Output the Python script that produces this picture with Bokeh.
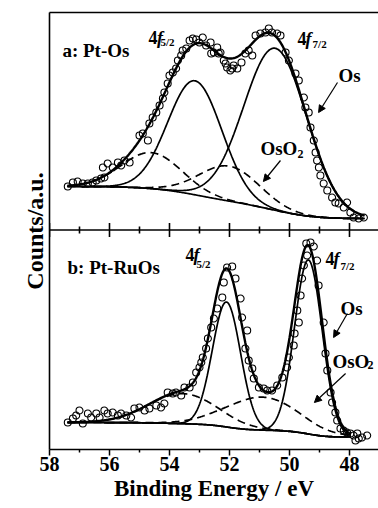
import numpy as np
from bokeh.plotting import figure
from bokeh.models import (Range1d, LinearAxis, FixedTicker, Span, Label,
                          Arrow, NormalHead)
from bokeh.embed import file_html
from bokeh.resources import INLINE

# ---------------- data ----------------
major_ticks = [58, 56, 54, 52, 50, 48]
minor_ticks = [57, 55, 53, 51, 49]
tick_labels = {58: "58", 56: "56", 54: "54", 52: "52", 50: "50", 48: "48"}

# Panel a: Pt-Os  (binding energy / eV, counts a.u.)
ev_a = [57.39, 57.22, 57.06, 56.89, 56.72, 56.56, 56.44, 56.28, 56.22, 56.17,
        56.06, 55.89, 55.72, 55.61, 55.50, 55.33, 55.00, 54.89, 54.72, 54.67,
        54.56, 54.44, 54.33, 54.22, 54.17, 54.06, 54.00, 53.89, 53.78, 53.72,
        53.61, 53.56, 53.44, 53.33, 53.22, 53.11, 53.00, 52.89, 52.78, 52.63,
        52.61, 52.52, 52.41, 52.36, 52.30, 52.19, 52.13, 52.08, 51.97, 51.91,
        51.86, 51.74, 51.60, 51.47, 51.36, 51.24, 51.13, 50.97, 50.80, 50.69,
        50.58, 50.41, 50.30, 50.13, 50.02, 49.80, 49.69, 49.52, 49.47, 49.36,
        49.30, 49.19, 49.13, 49.08, 49.02, 48.97, 48.86, 48.74, 48.58, 48.47,
        48.36, 48.19, 48.08, 47.97, 47.86, 47.69, 47.52]
cnt_a = [42, 46, 47, 45, 45, 46, 48, 50, 61, 51,
         65, 61, 66, 63, 68, 66, 93, 95, 88, 105,
         111, 116, 123, 130, 136, 145, 153, 156, 160, 168,
         173, 178, 180, 188, 190, 189, 186, 191, 183, 186,
         175, 176, 181, 175, 176, 168, 165, 161, 158, 160,
         163, 160, 166, 175, 178, 173, 193, 195, 196, 200,
         196, 195, 193, 176, 168, 155, 148, 131, 121, 116,
         101, 88, 76, 68, 61, 53, 45, 38, 31, 26,
         25, 21, 26, 16, 11, 10, 11]

# Panel b: Pt-RuOs
ev_b = [57.39, 57.22, 57.11, 57.00, 56.89, 56.72, 56.61, 56.44, 56.33, 56.17,
        56.06, 55.89, 55.72, 55.61, 55.44, 55.28, 55.17, 55.00, 54.83, 54.67,
        54.44, 54.28, 54.17, 54.06, 53.89, 53.78, 53.61, 53.50, 53.33, 53.22,
        53.11, 53.00, 52.94, 52.89, 52.78, 52.72, 52.61, 52.52, 52.41, 52.24,
        52.19, 52.08, 51.91, 51.80, 51.63, 51.58, 51.47, 51.41, 51.36, 51.24,
        51.19, 51.02, 50.86, 50.74, 50.58, 50.41, 50.24, 50.08, 50.02, 49.86,
        49.83, 49.74, 49.69, 49.63, 49.58, 49.52, 49.44, 49.41, 49.30, 49.19,
        49.08, 49.03, 48.86, 48.80, 48.74, 48.63, 48.58, 48.47, 48.41, 48.30,
        48.19, 48.08, 47.97, 47.86, 47.80, 47.74, 47.69, 47.58, 47.41]
cnt_b = [27, 31, 34, 39, 26, 36, 32, 36, 32, 39,
         36, 37, 34, 36, 34, 32, 41, 42, 39, 41,
         44, 42, 46, 57, 56, 57, 54, 62, 62, 67,
         77, 82, 87, 92, 101, 111, 122, 131, 141, 152,
         167, 182, 183, 171, 151, 132, 101, 119, 89, 81,
         71, 62, 61, 59, 59, 64, 72, 82, 92, 104,
         116, 139, 127, 154, 171, 184, 206, 194, 207, 203,
         189, 164, 127, 96, 79, 57, 47, 37, 29, 21,
         19, 17, 16, 14, 9, 16, 11, 12, 14]

# Fitted peaks: Os 4f7/2, Os 4f5/2, OsO2 4f7/2, OsO2 4f5/2
center_a = [50.47, 53.15, 52.00, 54.60]
height_a = [162, 114, 35, 36]
sigma_a = [1.05, 0.90, 1.00, 1.00]
bg_ends_a = [42, 10]          # background at high / low binding energy
fit_span_a = [57.40, 47.50]

center_b = [49.37, 52.10, 50.90, 53.55]
height_b = [174, 125, 33, 30]
sigma_b = [0.46, 0.47, 1.20, 1.15]
bg_ends_b = [27, 12.5]
fit_span_b = [57.40, 47.95]

SERIF = "Liberation Serif"


def fit_curves(span, centers, heights, sigmas, bg_ends):
    e = np.linspace(span[0], span[1], 500)
    comps = [h * np.exp(-0.5 * ((e - c) / s) ** 2)
             for c, h, s in zip(centers, heights, sigmas)]
    total = np.sum(comps, axis=0)
    cum = np.cumsum(total[::-1])[::-1]
    bg = bg_ends[1] + (bg_ends[0] - bg_ends[1]) * cum / cum[0]
    return e, bg, [bg + c for c in comps], bg + total


p = figure(width=378, height=508, output_backend="svg", toolbar_location=None,
           x_range=Range1d(58, 47.033), y_range=Range1d(0, 437),
           min_border_left=49, min_border_right=0, min_border_top=12,
           min_border_bottom=59)
p.extra_y_ranges = {"a": Range1d(-221, 216)}
p.outline_line_color = None
p.background_fill_color = "white"
p.border_fill_color = "white"
p.grid.visible = False

xa = p.xaxis[0]
xa.ticker = FixedTicker(ticks=major_ticks, minor_ticks=minor_ticks)
xa.major_label_overrides = tick_labels
xa.major_label_text_font = SERIF
xa.major_label_text_font_style = "bold"
xa.major_label_text_font_size = "20px"
xa.major_label_text_color = "black"
xa.major_label_standoff = 1
xa.major_tick_in = 0
xa.major_tick_out = 6
xa.minor_tick_in = 0
xa.minor_tick_out = 3
xa.major_tick_line_width = 1.5
xa.minor_tick_line_width = 1.5
xa.axis_line_width = 1.6
xa.axis_label = "Binding Energy / eV"
xa.axis_label_text_font = SERIF
xa.axis_label_text_font_style = "bold"
xa.axis_label_text_font_size = "23px"
xa.axis_label_text_color = "black"
xa.axis_label_standoff = 2

ya = p.yaxis[0]
ya.ticker = FixedTicker(ticks=[])
ya.axis_line_width = 1.6
ya.axis_label = "Counts/a.u."
ya.axis_label_text_font = SERIF
ya.axis_label_text_font_style = "bold"
ya.axis_label_text_font_size = "24px"
ya.axis_label_standoff = 2
ya.axis_label_text_color = "black"

top = LinearAxis(ticker=FixedTicker(ticks=[]), axis_line_width=1.6,
                 major_label_text_font_size="0px")
p.add_layout(top, "above")

# divider between the two panels with crossing ticks
divider = 219.5
p.add_layout(Span(location=divider, dimension="width", line_color="black",
                  line_width=1.6))
p.segment(x0=major_ticks, x1=major_ticks, y0=divider - 7, y1=divider + 7,
          line_color="black", line_width=1.6)
p.segment(x0=minor_ticks, x1=minor_ticks, y0=divider - 3.5, y1=divider + 3.5,
          line_color="black", line_width=1.6)

for ev, cnt, cen, hei, sig, bge, span, rng in [
        (ev_a, cnt_a, center_a, height_a, sigma_a, bg_ends_a, fit_span_a, "a"),
        (ev_b, cnt_b, center_b, height_b, sigma_b, bg_ends_b, fit_span_b, "default")]:
    e, bg, comps, env = fit_curves(span, cen, hei, sig, bge)
    p.scatter(ev, cnt, marker="circle", size=7, line_color="black",
              line_width=1.1, fill_color=None, y_range_name=rng)
    p.line(e, bg, line_color="black", line_width=1.7, y_range_name=rng)
    for c in comps[:2]:
        p.line(e, c, line_color="black", line_width=1.7, y_range_name=rng)
    for c in comps[2:]:
        p.line(e, c, line_color="black", line_width=1.7, line_dash="8 5",
               y_range_name=rng)
    p.line(e, env, line_color="black", line_width=2.4, y_range_name=rng)


def txt(x, y, t, size, style="bold"):
    p.add_layout(Label(x=x, y=y, text=t, text_font=SERIF,
                       text_font_style=style, text_font_size=size,
                       text_color="black", text_baseline="alphabetic"))


def orbital(x4, xf, xs, y, ys, sub):
    txt(x4, y, "4", "18px")
    txt(xf, y, "f", "18px", "bold italic")
    txt(xs, ys, sub, "11px")


def arrow(x0, y0, x1, y1):
    p.add_layout(Arrow(end=NormalHead(size=7, line_color="black",
                                      fill_color="black", line_width=1),
                       x_start=x0, y_start=y0, x_end=x1, y_end=y1,
                       line_color="black", line_width=1.2))


# panel a annotations
txt(57.57, 399, "a: Pt-Os", "19px")
orbital(54.70, 54.42, 54.30, 412, 408, "5/2")
orbital(49.73, 49.47, 49.23, 411, 406, "7/2")
txt(48.37, 374, "Os", "19px")
arrow(48.40, 367, 49.03, 337)
txt(50.97, 301, "OsO", "19px")
txt(49.73, 296, "2", "12px")
arrow(50.30, 289, 50.87, 268)

# panel b annotations
txt(57.40, 182, "b: Pt-RuOs", "19px")
orbital(53.47, 53.20, 53.10, 195, 186, "5/2")
orbital(48.80, 48.53, 48.30, 191, 184, "7/2")
txt(48.30, 141, "Os", "19px")
arrow(48.07, 136, 48.53, 112)
txt(48.57, 88, "OsO", "19px")
txt(47.40, 85, "2", "12px")
arrow(48.13, 76, 49.17, 47)

open("out.html", "w").write(file_html(p, INLINE))
